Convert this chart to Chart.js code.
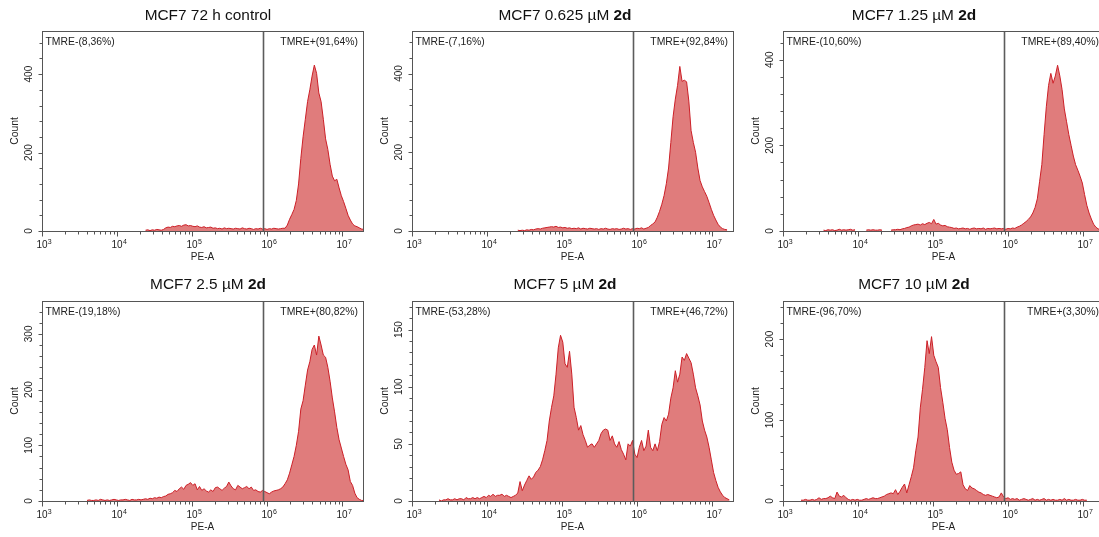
<!DOCTYPE html>
<html>
<head>
<meta charset="utf-8">
<script src="https://cdn.jsdelivr.net/npm/chart.js@4.4.1/dist/chart.umd.min.js"></script>
<style>
  html, body { margin: 0; padding: 0; background: #fff; width: 1099px; height: 537px; overflow: hidden; position: relative; }
  .panel { position: absolute; width: 370px; height: 268px; }
  .panel canvas { position: absolute; left: 0; top: 0; }
  .title { position: absolute; width: 320px; text-align: center; white-space: nowrap;
           font: 15.4px 'Liberation Sans', Arial, sans-serif; color: #111; line-height: 18px; }
  .title b { font-weight: bold; }
</style>
</head>
<body>
<script>
// ---------------- data ----------------
const panelTitles    = ['MCF7 72 h control', 'MCF7 0.625 µM', 'MCF7 1.25 µM', 'MCF7 2.5 µM', 'MCF7 5 µM', 'MCF7 10 µM'];
const panelTitleBold = ['', '2d', '2d', '2d', '2d', '2d'];
const negLabels = ['TMRE-(8,36%)', 'TMRE-(7,16%)', 'TMRE-(10,60%)', 'TMRE-(19,18%)', 'TMRE-(53,28%)', 'TMRE-(96,70%)'];
const posLabels = ['TMRE+(91,64%)', 'TMRE+(92,84%)', 'TMRE+(89,40%)', 'TMRE+(80,82%)', 'TMRE+(46,72%)', 'TMRE+(3,30%)'];
const gateValue = 8.8e5;
const xMin = 1e3, xMax = 1.9e7;
const xAxisTitle = 'PE-A', yAxisTitle = 'Count';
const yMax        = [510, 508, 467, 359, 175, 247];
const yMinorStep  = [40, 40, 40, 20, 10, 20];
const yLabelStep  = [200, 200, 200, 100, 50, 100];

// histogram channels: log10 bin centres start at 3.00, 0.03 per channel
const channelExp0 = 3.0, channelExpStep = 0.03;
const countsStart = [46, 47, 18, 20, 12, 8];

const counts72hControl = [
  2,3,1,3,2,4,3,2,4,
  8,10,9,12,11,13,14,12,15,16,13,14,12,11,13,10,9,11,8,9,10,
  7,8,6,7,5,8,6,7,6,5, 7,6,5,8,6,5,7,6,4,6, 5,7,5,6,4,6,5,7,6,5, 6,7,
  7,15,30,42,55,78,120,185,240,285, 330,360,395,423,402,352,330,285,235,208,
  170,140,128,132,110,90,75,58,40,28, 18,13,11,8,5,4
];
const counts0625 = [
  2,1,2,1,3,2,4,3,5,6, 5,7,8,9,10,11,10,12,9,10, 8,9,7,8,6,7,6,8,5,7,
  6,5,7,6,5,6,4,6,5,7, 5,4,6,5,6,4,5,7,5,6, 4,6,5,7,6,8,5,7,
  9,14,18,23,35,50,68,90,120,160, 225,290,335,370,418,380,383,379,330,255,
  225,200,160,128,112,100,88,72,55,40, 28,17,10,6,4,3
];
const counts125 = [
  2,1,3,2,3,1,2,4,2,3, 2,3,4,2,3,
  null,null,null,null,
  2,3,2,3,2,2,3,2,
  null,null,null,
  2,3,3,4,3,5,6,8,9,12, 14,15,16,14,17,15,18,20,17,27, 16,18,14,12,13,10,9,8,
  6,7,5,6,7,5,6,4,6,7, 5,6,5,7,4,6,5,6,7,5, 6,5,6,4,6,5,7,6,
  9,11,14,18,22,27,33,42,55,75, 115,155,225,290,340,368,345,362,387,362,
  330,285,255,225,200,175,155,142,128,112, 85,60,42,28,16,9,5,3
];
const counts25 = [
  1,2,1,1,2,1,3,2,1,2, 1,2,3,2,1,2,2,3,2,1, 3,2,2,3,2,
  3,4,3,5,4,6,5,7,6,8,9,
  12,13,15,19,17,22,25,21,28,30, 33,28,31,20,26,
  19,22,18,16,20,17,24,25,22,19, 23,26,34,27,22,20,28,25,22,24, 26,22,25,19,20,17,16,
  19,17,15,13,16,18,19,20,22,25,31,
  38,50,65,80,100,125,165,180,208,235, 250,272,280,262,296,280,262,258,240,215,
  185,160,132,110,95,80,66,56,35,28, 14,6,3,1,1
];
const counts5 = [
  1,0,1,1,2,1,1,2,1,2, 2,1,3,2,2,3,2,3,2,3, 4,3,5,4,6,4,5,
  5,6,4,5,4,3,4,5,7,
  17,9,14,18,22,19,21,25,27,30,36,44,53,
  70,82,92,111,134,145,139,120,117,131,
  111,82,73,62,66,58,53,47,49,50, 47,50,53,59,62,63,62,53,57,50,
  47,52,45,41,36,50,48,53,41,38, 47,53,44,48,62,47,44,50,44,52,
  67,73,70,76,90,99,114,104,111,126, 123,129,125,121,111,99,92,84,70,62,
  56,47,36,25,18,12,8,5,3,2, 1
];
const counts10 = [
  1,1,2,1,1,2,1,2,4,2, 3,3,4,6,4,3,11,6,5,7, 4,2,
  1,2,1,2,1,1,2,3,2,3, 4,3,3,4,5,
  6,8,9,10,9,14,8,12,17,21,10,20,30,
  41,62,79,115,138,165,198,182,203,180, 172,165,140,122,102,88,66,48,38,33,
  34,36,20,15,13,19,16,15,13,11, 10,8,7,8,7,6,5,4,5,10,
  5,3,4,2,3,2,3,1,2,3, 2,1,2,3,1,2,1,2,3,1,
  2,1,2,1,1,2,1,3,1,2, 1,1,2,1,1,2,1,1
];
const panelCounts = [counts72hControl, counts0625, counts125, counts25, counts5, counts10];

// ---------------- layout / style ----------------
const FONT = "'Liberation Sans', Arial, sans-serif";
const panelLeft = [0, 370, 741];
const panelTop  = [0, 270];
const titleCx = [208, 565, 914];
const titleCy = [15, 284];
const FILL = '#E07C7C', LINE = '#CC1F27', FRAME = '#555555', TEXT = '#222222';
const X_TICK_PAD = 8, X_TICK_FONT = 10;

const xTickValues = [];
for (let e = 3; e <= 6; e++) for (let m = 1; m <= 9; m++) xTickValues.push(m * Math.pow(10, e));
xTickValues.push(1e7);

function isPow10(v) { const e = Math.log10(v); return Math.abs(e - Math.round(e)) < 1e-9; }

const flowDecor = {
  id: 'flowDecor',
  afterDatasetsDraw(chart, args, opts) {
    const {ctx, chartArea: a, scales: {x, y}} = chart;
    ctx.save();
    // gate line
    const gx = Math.round(x.getPixelForValue(opts.gate)) + 0.5;
    ctx.strokeStyle = '#5c5c5c'; ctx.lineWidth = 1.6;
    ctx.beginPath(); ctx.moveTo(gx, a.top); ctx.lineTo(gx, a.bottom); ctx.stroke();
    // frame
    ctx.strokeStyle = FRAME; ctx.lineWidth = 1;
    const L = Math.round(a.left) + 0.5, T = Math.round(a.top) + 0.5;
    const R = Math.round(a.right) + 0.5, B = Math.round(a.bottom) + 0.5;
    ctx.strokeRect(L, T, R - L, B - T);
    // tick marks
    ctx.beginPath();
    x.ticks.forEach(t => {
      const p = Math.round(x.getPixelForValue(t.value)) + 0.5;
      const len = isPow10(t.value) ? 5 : 3;
      ctx.moveTo(p, B); ctx.lineTo(p, B + len);
    });
    y.ticks.forEach(t => {
      const p = Math.round(y.getPixelForValue(t.value)) + 0.5;
      const len = (t.value % opts.labelStep === 0) ? 4 : 3;
      ctx.moveTo(L, p); ctx.lineTo(L - len, p);
    });
    ctx.stroke();
    // decade exponents (superscripts of the "10" tick labels)
    ctx.fillStyle = TEXT;
    ctx.font = X_TICK_FONT + 'px ' + FONT;
    const baseW = ctx.measureText('10').width;
    ctx.font = '7px ' + FONT; ctx.textAlign = 'left'; ctx.textBaseline = 'alphabetic';
    const labelMid = x.top + X_TICK_PAD + X_TICK_FONT * 0.6;
    x.ticks.forEach(t => {
      if (!isPow10(t.value)) return;
      const p = x.getPixelForValue(t.value);
      ctx.fillText(String(Math.round(Math.log10(t.value))), p + baseW / 2 + 0.3, labelMid - 0.8);
    });
    // gate labels
    ctx.fillStyle = TEXT; ctx.font = '10.4px ' + FONT; ctx.textBaseline = 'middle';
    ctx.textAlign = 'left';  ctx.fillText(opts.neg, a.left + 3.5, a.top + 11);
    ctx.textAlign = 'right'; ctx.fillText(opts.pos, a.right - 5, a.top + 11);
    ctx.restore();
  }
};

for (let k = 0; k < 6; k++) {
  const col = k % 3, row = Math.floor(k / 3);
  const div = document.createElement('div');
  div.className = 'panel';
  div.style.left = panelLeft[col] + 'px';
  div.style.top = panelTop[row] + 'px';
  const cv = document.createElement('canvas');
  cv.width = 370; cv.height = 268;
  div.appendChild(cv);
  document.body.appendChild(div);

  const t = document.createElement('div');
  t.className = 'title';
  t.style.left = (titleCx[col] - 160) + 'px';
  t.style.top = (titleCy[row] - 9) + 'px';
  t.appendChild(document.createTextNode(panelTitles[k] + (panelTitleBold[k] ? ' ' : '')));
  if (panelTitleBold[k]) { const b = document.createElement('b'); b.textContent = panelTitleBold[k]; t.appendChild(b); }
  document.body.appendChild(t);

  const pts = panelCounts[k].map((c, j) => ({ x: Math.pow(10, channelExp0 + channelExpStep * (countsStart[k] + j)), y: c }));
  const labelStep = yLabelStep[k];

  new Chart(cv, {
    type: 'line',
    data: { datasets: [{ data: pts, fill: 'origin', backgroundColor: FILL, borderColor: LINE,
                         borderWidth: 1, pointRadius: 0, tension: 0, spanGaps: false }] },
    options: {
      responsive: false, animation: false, devicePixelRatio: 1,
      layout: { padding: { top: 31, right: 7, left: 0, bottom: 0 } },
      plugins: { legend: { display: false }, tooltip: { enabled: false },
                 flowDecor: { gate: gateValue, neg: negLabels[k], pos: posLabels[k], labelStep } },
      scales: {
        x: {
          type: 'logarithmic', min: xMin, max: xMax,
          grid: { display: false, drawTicks: false, tickLength: 0 },
          border: { display: false },
          afterBuildTicks: s => { s.ticks = xTickValues.map(v => ({ value: v })); },
          afterFit: s => { s.height = 37; },
          ticks: { autoSkip: false, maxRotation: 0, minRotation: 0, padding: X_TICK_PAD, color: TEXT,
                   font: { family: FONT, size: X_TICK_FONT },
                   callback: v => isPow10(v) ? '10' : '' },
          title: { display: true, text: xAxisTitle, color: TEXT, font: { family: FONT, size: 10 },
                   padding: { top: 0, bottom: 5 } }
        },
        y: {
          type: 'linear', min: 0, max: yMax[k],
          grid: { display: false, drawTicks: false, tickLength: 0 },
          border: { display: false },
          afterFit: s => { s.width = 42; },
          ticks: { stepSize: yMinorStep[k], includeBounds: false, autoSkip: false,
                   minRotation: 90, maxRotation: 90, crossAlign: 'center', padding: 4, color: TEXT,
                   font: { family: FONT, size: 10 },
                   callback: v => (v % labelStep === 0) ? String(v) : '' },
          title: { display: true, text: yAxisTitle, color: TEXT, font: { family: FONT, size: 10.4 },
                   padding: { top: 9, bottom: 0 } }
        }
      }
    },
    plugins: [flowDecor]
  });
}
</script>
</body>
</html>
